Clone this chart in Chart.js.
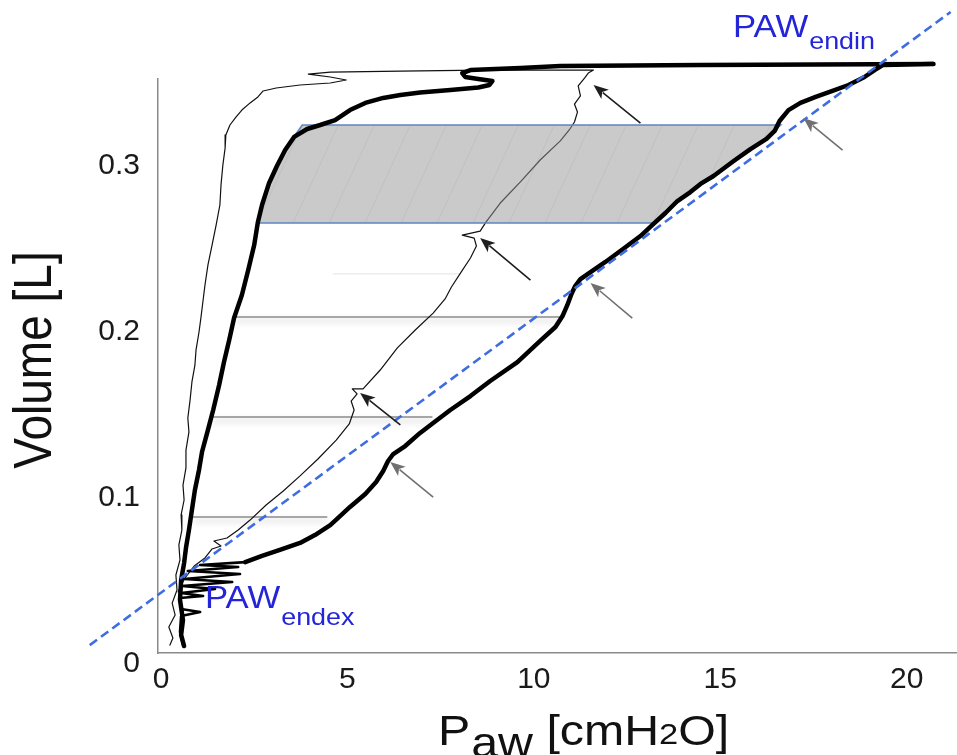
<!DOCTYPE html>
<html>
<head>
<meta charset="utf-8">
<script src="https://cdn.jsdelivr.net/npm/chart.js@4.4.0/dist/chart.umd.min.js"></script>
<style>
  html, body { margin: 0; padding: 0; background: #fff; }
  #wrap { width: 957px; height: 755px; }
</style>
</head>
<body>
<div id="wrap"><canvas id="pvChart" width="957" height="755"></canvas></div>
<script>
// axis ticks
const xTicks = [0, 5, 10, 15, 20];
const yTicks = [0, 0.1, 0.2, 0.3];

// thin loop: inspiration (middle curve) up, top plateau back left, expiration down the left side
const thinP = [0.46,0.64,0.89,1.18,1.37,1.61,1.42,1.77,2.07,2.39,2.82,3.28,3.73,4.21,4.70,5.05,5.18,5.10,5.26,5.13,
  5.42,5.88,6.34,6.82,7.30,7.62,7.79,8.05,8.30,8.46,8.40,8.08,8.56,8.72,9.10,9.64,10.17,10.71,10.95,11.09,
  11.17,11.09,11.25,11.19,11.36,11.46,11.60,
  8.56,6.42,4.54,3.95,4.54,4.97,4.54,3.73,3.09,2.74,2.60,2.39,2.17,2.01,1.85,1.74,1.72,1.66,1.61,1.58,
  1.48,1.37,1.26,1.18,1.13,1.07,1.02,0.94,0.91,0.83,0.78,0.72,0.75,0.67,0.67,0.59,0.62,0.54,0.56,0.48,
  0.51,0.40,0.43,0.30,0.38,0.21,0.32,0.24];
const thinV = [0.0434,0.0518,0.0590,0.0639,0.0693,0.0711,0.0741,0.0759,0.0807,0.0867,0.0958,0.1042,0.1133,0.1235,0.1349,0.1446,0.1530,0.1584,0.1627,0.1657,
  0.1657,0.1771,0.1904,0.2012,0.2114,0.2199,0.2271,0.2361,0.2446,0.2518,0.2566,0.2584,0.2608,0.2663,0.2777,0.2904,0.3036,0.3151,0.3217,0.3265,
  0.3325,0.3373,0.3422,0.3482,0.3530,0.3560,0.3578,
  0.3578,0.3572,0.3566,0.3554,0.3536,0.3518,0.3500,0.3488,0.3470,0.3452,0.3416,0.3380,0.3337,0.3295,0.3247,0.3187,0.3108,0.3006,0.2886,0.2765,
  0.2645,0.2524,0.2404,0.2283,0.2193,0.2084,0.2000,0.1892,0.1801,0.1699,0.1590,0.1482,0.1398,0.1289,0.1181,0.1078,0.0988,0.0898,0.0807,0.0717,
  0.0627,0.0536,0.0446,0.0367,0.0295,0.0223,0.0157,0.0114];

// thick loop: spikes near the origin, inspiration on the right, plateau, expiration on the left
const thickP = [0.59,0.51,0.54,1.05,0.54,0.51,1.13,0.54,1.45,0.56,1.91,0.62,2.12,0.72,2.07,1.05,2.26,
  2.71,3.19,3.73,4.13,4.54,4.81,5.07,5.48,5.77,5.96,6.09,6.23,6.55,6.95,7.30,7.76,8.30,8.83,9.56,10.17,
  10.58,10.77,10.90,11.01,11.11,11.25,11.52,11.92,12.32,12.86,13.21,13.53,13.85,14.20,14.47,14.82,15.36,15.81,16.24,16.46,
  16.59,16.83,17.15,17.56,18.01,18.44,18.87,19.14,19.36,20.72,
  14.47,10.71,9.64,8.30,8.08,8.16,8.51,8.89,8.81,8.51,7.76,6.95,6.42,5.96,5.48,5.07,4.67,4.27,3.92,3.57,
  3.33,3.11,2.90,2.71,2.60,2.50,2.34,2.17,1.96,1.83,1.69,1.56,1.40,1.26,1.10,1.02,0.91,0.83,0.75,0.67,
  0.62,0.54,0.51,0.59,0.54,0.62];
const thickV = [0.0114,0.0193,0.0289,0.0313,0.0331,0.0398,0.0410,0.0428,0.0452,0.0470,0.0494,0.0512,0.0542,0.0560,0.0584,0.0596,0.0614,
  0.0651,0.0687,0.0729,0.0777,0.0837,0.0892,0.0946,0.1024,0.1096,0.1163,0.1223,0.1265,0.1313,0.1392,0.1452,0.1530,0.1614,0.1705,0.1819,0.1946,
  0.2030,0.2096,0.2163,0.2229,0.2277,0.2319,0.2361,0.2422,0.2488,0.2578,0.2651,0.2717,0.2789,0.2843,0.2892,0.2940,0.3030,0.3102,0.3163,0.3211,
  0.3271,0.3337,0.3380,0.3416,0.3452,0.3488,0.3536,0.3578,0.3608,0.3614,
  0.3608,0.3602,0.3590,0.3578,0.3560,0.3536,0.3524,0.3512,0.3488,0.3473,0.3458,0.3443,0.3428,0.3410,0.3380,0.3337,0.3277,0.3247,0.3223,0.3175,
  0.3096,0.3000,0.2898,0.2765,0.2663,0.2524,0.2373,0.2223,0.2084,0.1952,0.1819,0.1681,0.1530,0.1410,0.1277,0.1169,0.1048,0.0928,0.0807,0.0699,
  0.0608,0.0506,0.0386,0.0265,0.0175,0.0108];

// shaded band between the two loops
const bandP = [2.60,2.71,2.87,3.11,3.38,3.60,3.79,16.62,16.40,16.08,15.68,15.36,14.82,14.47,13.93,13.53,13.21,2.60];
const bandV = [0.2657,0.2765,0.2886,0.2994,0.3108,0.3187,0.3247,0.3247,0.3199,0.3138,0.3078,0.3036,0.2934,0.2886,0.2795,0.2717,0.2657,0.2657];

// horizontal volume levels
const levelV = [0.0886, 0.1488, 0.2090];
const levelFromP = [0.86, 1.37, 1.99];
const levelToP = [4.46, 7.28, 10.71];
const faintV = 0.235, faintFromP = 4.62, faintToP = 8.03;

// dashed line PAWendex -> PAWendin
const fitP = [-1.91, 21.18];
const fitV = [0.0114, 0.3928];

// arrows: tail -> head
const arrowFromP = [12.86, 9.91, 6.42, 7.30, 12.64, 18.28];
const arrowFromV = [0.3259, 0.2313, 0.1440, 0.1006, 0.2084, 0.3096];
const arrowToP = [11.60, 8.56, 5.34, 6.15, 11.52, 17.23];
const arrowToV = [0.3488, 0.2566, 0.1633, 0.1217, 0.2295, 0.3289];
const arrowDark = [true, true, true, false, false, false];

const FONT = "'Liberation Sans', Arial, Helvetica, sans-serif";
const toPts = (ps, vs) => ps.map((p, i) => ({ x: p, y: vs[i] }));

// hatched gray fill for the band
function makeHatch() {
    const c = document.createElement('canvas');
    c.width = 36; c.height = 78;
    const g = c.getContext('2d');
    g.fillStyle = 'rgba(150,150,150,0.5)';
    g.fillRect(0, 0, 36, 78);
    g.strokeStyle = 'rgba(120,120,120,0.12)';
    g.lineWidth = 1;
    [-36, 0, 36].forEach(function (o) {
        g.beginPath(); g.moveTo(o, 78); g.lineTo(o + 36, 0); g.stroke();
    });
    return g.createPattern(c, 'repeat');
}

function stretchText(ctx, str, x, y, size, color, sx) {
    ctx.save();
    ctx.translate(x, y);
    ctx.scale(sx, 1);
    ctx.font = size + 'px ' + FONT;
    ctx.fillStyle = color;
    ctx.textAlign = 'left';
    ctx.textBaseline = 'alphabetic';
    ctx.fillText(str, 0, 0);
    const w = ctx.measureText(str).width * sx;
    ctx.restore();
    return x + w;
}

function drawArrow(ctx, x1, y1, x2, y2, color) {
    const a = Math.atan2(y2 - y1, x2 - x1);
    const head = 15, half = 6;
    ctx.save();
    ctx.strokeStyle = color; ctx.fillStyle = color; ctx.lineWidth = 1.6;
    ctx.beginPath();
    ctx.moveTo(x1, y1);
    ctx.lineTo(x2 - head * 0.8 * Math.cos(a), y2 - head * 0.8 * Math.sin(a));
    ctx.stroke();
    ctx.beginPath();
    ctx.moveTo(x2, y2);
    ctx.lineTo(x2 - head * Math.cos(a) + half * Math.sin(a), y2 - head * Math.sin(a) - half * Math.cos(a));
    ctx.lineTo(x2 - head * 0.75 * Math.cos(a), y2 - head * 0.75 * Math.sin(a));
    ctx.lineTo(x2 - head * Math.cos(a) - half * Math.sin(a), y2 - head * Math.sin(a) + half * Math.cos(a));
    ctx.closePath();
    ctx.fill();
    ctx.restore();
}

const decorations = {
    id: 'decorations',
    beforeDatasetDraw: function (chart, args) {
        if (args.meta._dataset.shadow) {
            const ctx = chart.ctx;
            ctx.save();
            ctx.shadowColor = 'rgba(0,0,0,0.28)';
            ctx.shadowBlur = 6;
            ctx.shadowOffsetY = 4;
        }
    },
    afterDatasetDraw: function (chart, args) {
        if (args.meta._dataset.shadow) chart.ctx.restore();
    },
    afterDatasetsDraw: function (chart) {
        const ctx = chart.ctx;
        const xs = chart.scales.x, ys = chart.scales.y;
        arrowFromP.forEach(function (p, i) {
            drawArrow(ctx,
                xs.getPixelForValue(p), ys.getPixelForValue(arrowFromV[i]),
                xs.getPixelForValue(arrowToP[i]), ys.getPixelForValue(arrowToV[i]),
                arrowDark[i] ? '#1e1e1e' : '#707070');
        });
    },
    afterDraw: function (chart) {
        const ctx = chart.ctx;
        const blue = '#2424d8';
        // PAW labels
        let x = stretchText(ctx, 'PAW', 733, 37, 31, blue, 1.12);
        stretchText(ctx, 'endin', x + 1, 49, 24, blue, 1.12);
        x = stretchText(ctx, 'PAW', 205, 608, 31, blue, 1.12);
        stretchText(ctx, 'endex', x + 1, 625, 24, blue, 1.12);

        // x axis title
        x = stretchText(ctx, 'P', 438, 745, 42, '#111', 1.15);
        x = stretchText(ctx, 'aw', x + 1, 757, 42, '#111', 1.15);
        x = stretchText(ctx, ' [cmH', x, 745, 42, '#111', 1.15);
        x = stretchText(ctx, '2', x, 744, 30, '#111', 1.15);
        stretchText(ctx, 'O]', x, 745, 42, '#111', 1.15);

        // y axis title
        ctx.save();
        ctx.translate(51, 360);
        ctx.rotate(-Math.PI / 2);
        ctx.scale(1, 1.15);
        ctx.font = '46px ' + FONT;
        ctx.fillStyle = '#111';
        ctx.textAlign = 'center';
        ctx.textBaseline = 'alphabetic';
        ctx.fillText('Volume [L]', 0, 0);
        ctx.restore();
    }
};

const lineDs = function (pts, color, width, order, extra) {
    return Object.assign({
        data: pts, showLine: true, borderColor: color, borderWidth: width,
        pointRadius: 0, tension: 0, fill: false, order: order,
        borderJoinStyle: 'round', borderCapStyle: 'round'
    }, extra || {});
};

const datasets = [
    lineDs(toPts(fitP, fitV), '#3e6de2', 2.6, 0, { borderDash: [9, 5], clip: false, borderCapStyle: 'butt' }),
    lineDs(toPts(thickP, thickV), '#000', 4.5, 1, {
        clip: false,
        // the spikes near the origin are drawn thinner
        segment: { borderWidth: function (c) { return c.p0DataIndex < 16 ? 2.6 : undefined; } }
    }),
    lineDs(toPts(bandP, bandV), '#5f86c4', 1.6, 2, { fill: 'shape', backgroundColor: makeHatch(), borderJoinStyle: 'miter' }),
    lineDs(toPts(thinP, thinV), '#111', 1.2, 3, { clip: false })
];
levelV.forEach(function (v, i) {
    datasets.push(lineDs(toPts([levelFromP[i], levelToP[i]], [v, v]), '#8a8a8a', 1.6, 4, { shadow: true, borderCapStyle: 'butt' }));
});
datasets.push(lineDs(toPts([faintFromP, faintToP], [faintV, faintV]), '#e4e4e4', 1, 5));

new Chart(document.getElementById('pvChart').getContext('2d'), {
    type: 'scatter',
    data: { datasets: datasets },
    options: {
        responsive: false,
        animation: false,
        devicePixelRatio: 1,
        layout: { padding: { top: 79, right: 0, left: 0, bottom: 0 } },
        plugins: { legend: { display: false }, tooltip: { enabled: false } },
        scales: {
            x: {
                type: 'linear', min: -0.08, max: 21.35,
                afterBuildTicks: function (s) { s.ticks = xTicks.map(function (v) { return { value: v }; }); },
                afterFit: function (s) { s.height = 102; },
                grid: { display: false, drawTicks: false },
                border: { display: true, color: '#8a8a8a', width: 1.5 },
                ticks: { font: { size: 30, family: FONT }, color: '#1a1a1a', padding: 9, maxRotation: 0, autoSkip: false }
            },
            y: {
                type: 'linear', min: 0.00663, max: 0.35241,
                afterBuildTicks: function (s) { s.ticks = yTicks.map(function (v) { return { value: v }; }); },
                afterFit: function (s) { s.width = 158; },
                grid: { display: false, drawTicks: false },
                border: { display: true, color: '#8a8a8a', width: 1.5 },
                ticks: {
                    font: { size: 30, family: FONT }, color: '#1a1a1a', padding: 18, autoSkip: false,
                    callback: function (v) { return v === 0 ? '0' : v.toFixed(1); }
                }
            }
        }
    },
    plugins: [decorations]
});
</script>
</body>
</html>
